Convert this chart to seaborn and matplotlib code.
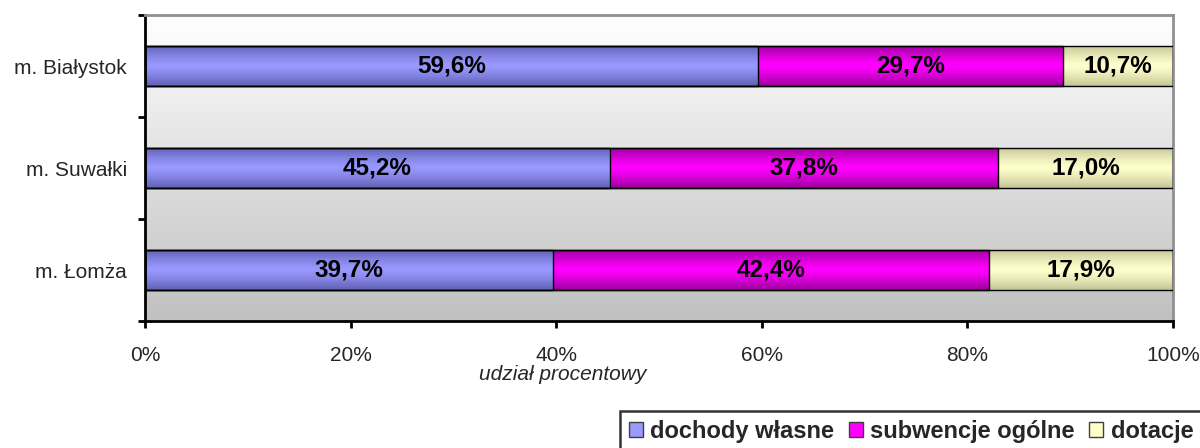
import numpy as np
import pandas as pd
import matplotlib
matplotlib.use('Agg')
import matplotlib.pyplot as plt
import matplotlib.colors as mcolors
from matplotlib import font_manager as fm
from matplotlib.patches import Patch
import seaborn as sns

cities = ['m. Białystok', 'm. Suwałki', 'm. Łomża']
wlasne = [59.6, 45.2, 39.7]
subwencje = [29.7, 37.8, 42.4]
dotacje = [10.7, 17.0, 17.9]
series_names = ['dochody własne', 'subwencje ogólne', 'dotacje']
colors = ['#9999FF', '#FF00FF', '#FFFFCC']
dark = ['#6060B4', '#9A009A', '#C4C496']

sns.set_theme(style='white')
plt.rcParams['font.family'] = ['Liberation Sans', 'DejaVu Sans']

# pick the regular-width bold face (avoid "Narrow")
bold_file = None
for f in fm.fontManager.ttflist:
    if f.name == 'Liberation Sans' and f.weight in (700, 'bold') and f.style == 'normal' \
            and 'Narrow' not in f.fname:
        bold_file = f.fname
        break
if bold_file:
    bold_label = fm.FontProperties(fname=bold_file, size=17.5)
    bold_leg = fm.FontProperties(fname=bold_file, size=17)
else:
    bold_label = fm.FontProperties(family='Liberation Sans', weight='bold', size=17.5)
    bold_leg = fm.FontProperties(family='Liberation Sans', weight='bold', size=17)

df = pd.DataFrame({'city': cities, 'w': wlasne, 's': subwencje, 'd': dotacje})
df['c1'] = df['w']
df['c2'] = df['w'] + df['s']
df['c3'] = df['c2'] + df['d']

fig = plt.figure(figsize=(12, 4.48), dpi=100)
ax = fig.add_axes([145 / 1200, 1 - 321 / 448, 1028 / 1200, 306 / 448])

# stacked bars: draw cumulative totals from largest to smallest
for col, c in zip(['c3', 'c2', 'c1'], colors[::-1]):
    sns.barplot(data=df, y='city', x=col, orient='h', color=c, width=0.4,
                edgecolor='black', linewidth=1, saturation=1, ax=ax, zorder=2)

ax.set_xlim(0, 100)
ax.set_ylim(2.5, -0.5)

# background gradient
grad = np.linspace(0, 1, 256).reshape(-1, 1)
bg = mcolors.LinearSegmentedColormap.from_list('bg', ['#FFFFFF', '#C0C0C0'])
ax.imshow(grad, extent=[0, 100, 2.5, -0.5], aspect='auto', cmap=bg, zorder=0)

# bar shading (darker at top and bottom edges)
shade = np.abs(np.linspace(-1, 1, 64)).reshape(-1, 1) ** 1.3
n = len(cities)
bars = list(ax.patches)
for k, p in enumerate(bars):
    layer = k // n
    base = colors[::-1][layer]
    edge = dark[::-1][layer]
    cm = mcolors.LinearSegmentedColormap.from_list(f'b{k}', [base, edge])
    x0, y0 = p.get_x(), p.get_y()
    w, h = p.get_width(), p.get_height()
    im = ax.imshow(shade, extent=[x0, x0 + w, y0 + h, y0], aspect='auto',
                   cmap=cm, vmin=0, vmax=1, zorder=2.5, interpolation='bilinear')
    im.set_clip_path(p)
    p.set_facecolor('none')
    p.set_zorder(3)
ax.set_xlim(0, 100)
ax.set_ylim(2.5, -0.5)

# value labels
for i in range(n):
    starts = [0, wlasne[i], wlasne[i] + subwencje[i]]
    vals = [wlasne[i], subwencje[i], dotacje[i]]
    for s, v in zip(starts, vals):
        ax.text(s + v / 2, i, f'{v:.1f}%'.replace('.', ','), ha='center', va='center',
                fontproperties=bold_label, color='black', zorder=5)

# axes styling
ax.set_xticks(range(0, 101, 20))
ax.set_xticklabels([f'{t}%' for t in range(0, 101, 20)], fontsize=15)
ax.set_yticks(range(n))
ax.set_yticklabels(cities, fontsize=15)
ax.set_yticks([-0.5, 0.5, 1.5, 2.5], minor=True)
ax.tick_params(axis='y', which='major', length=0, pad=13)
ax.tick_params(axis='y', which='minor', direction='out', length=5, width=2, color='black', left=True)
ax.tick_params(axis='x', direction='out', length=5, width=2, color='black', bottom=True, pad=13)
ax.set_ylabel('')
ax.set_xlabel('udział procentowy', fontsize=15, style='italic')
ax.xaxis.set_label_coords(0.406, -0.145)

for side in ['left', 'bottom']:
    ax.spines[side].set_color('black')
    ax.spines[side].set_linewidth(2)
for side in ['top', 'right']:
    ax.spines[side].set_color('#909090')
    ax.spines[side].set_linewidth(2)

handles = [Patch(facecolor=c, edgecolor='#404040', linewidth=1) for c in colors]
leg = fig.legend(handles, series_names, loc='upper left', bbox_to_anchor=(620 / 1200, 1 - 411 / 448),
                 ncol=3, frameon=True, fancybox=False, handlelength=0.6, handleheight=0.6,
                 handletextpad=0.3, columnspacing=0.62, borderpad=0.38, borderaxespad=0,
                 prop=bold_leg)
leg.get_frame().set_edgecolor('black')
leg.get_frame().set_linewidth(1.8)

fig.savefig('out.png', dpi=100)
